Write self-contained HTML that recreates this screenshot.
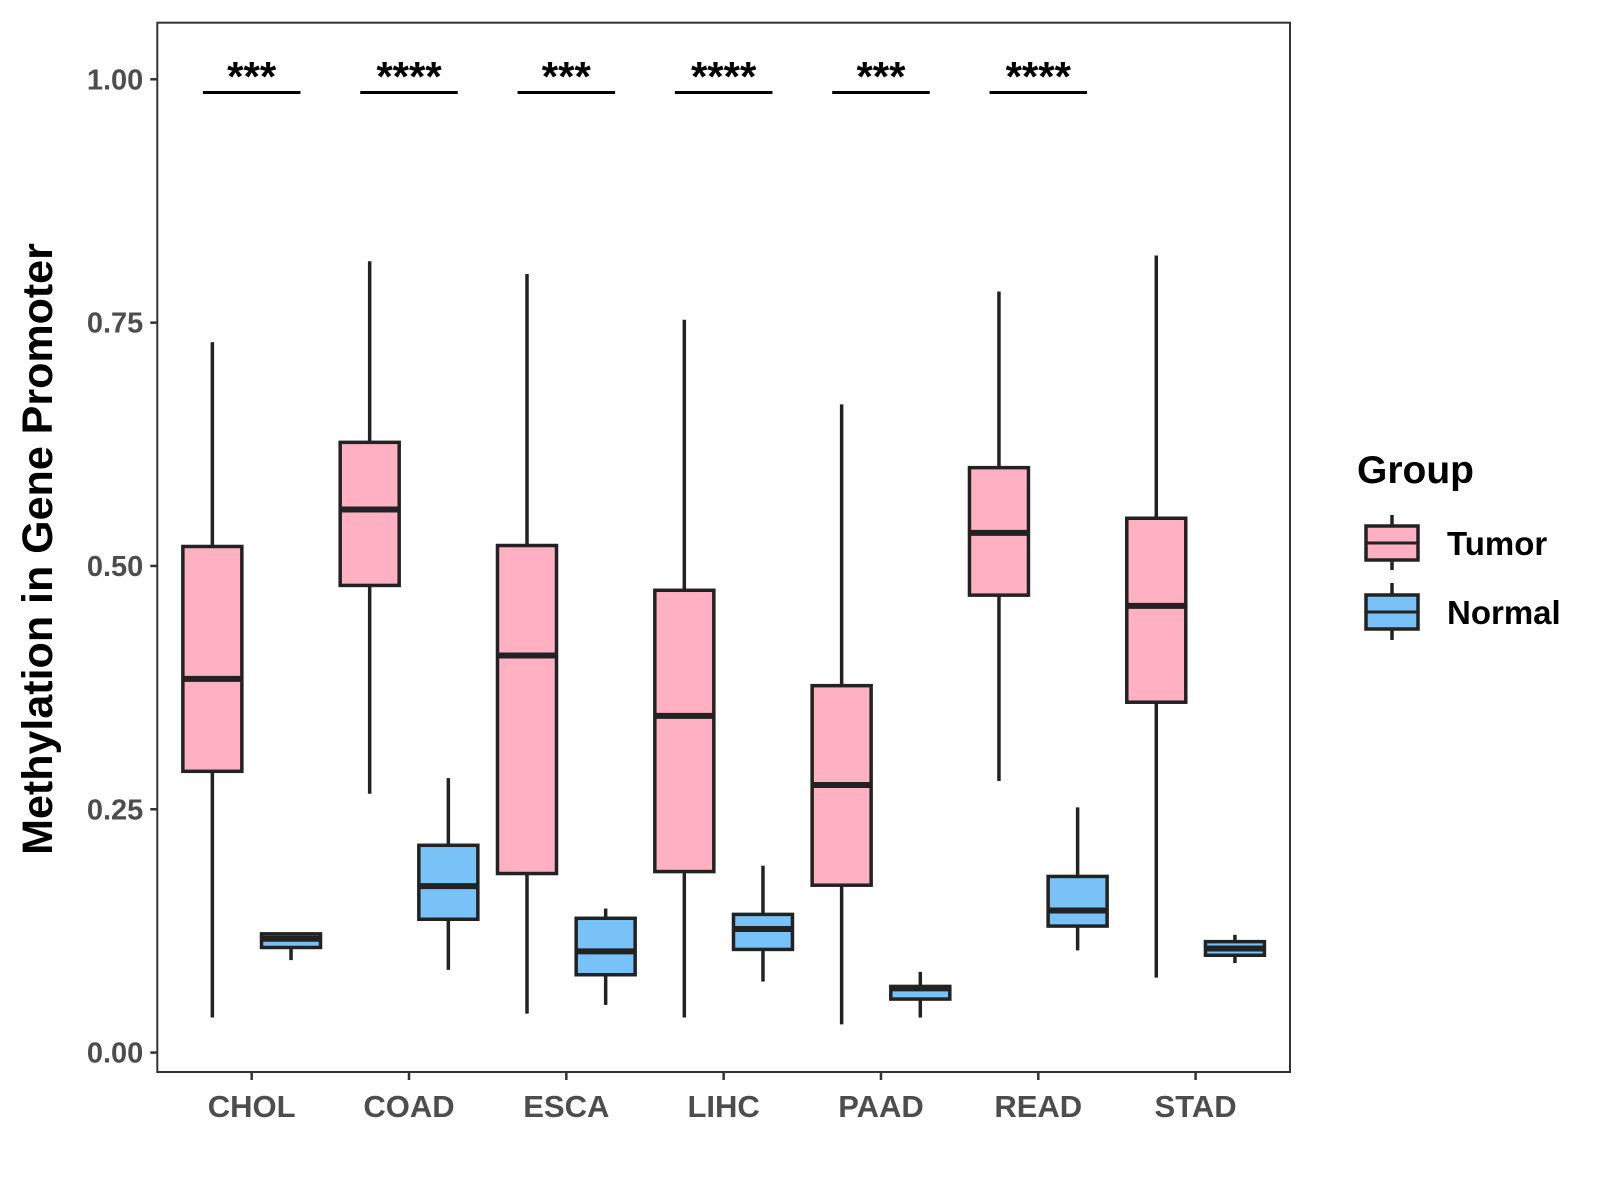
<!DOCTYPE html>
<html><head><meta charset="utf-8"><style>body{margin:0;background:#fff;position:relative}svg{display:block;font-family:"Liberation Sans",Arial,sans-serif}</style></head>
<body>
<svg id="c" width="1600" height="1200" viewBox="0 0 1600 1200"></svg>
<script>
const categories=["CHOL","COAD","ESCA","LIHC","PAAD","READ","STAD"];
const tumorStats=[[0.036,0.289,0.384,0.520,0.730],[0.266,0.480,0.558,0.627,0.813],[0.040,0.184,0.408,0.521,0.800],[0.036,0.186,0.346,0.475,0.753],[0.029,0.172,0.275,0.377,0.666],[0.279,0.470,0.534,0.601,0.782],[0.077,0.360,0.459,0.549,0.819]];
const normalStats=[[0.095,0.108,0.117,0.122,0.122],[0.085,0.137,0.171,0.213,0.282],[0.049,0.080,0.104,0.138,0.148],[0.073,0.106,0.127,0.142,0.192],[0.036,0.055,0.066,0.068,0.083],[0.105,0.130,0.146,0.181,0.252],[0.092,0.100,0.107,0.114,0.121]];
const sigLabels=["***","****","***","****","***","****"];
const yTicks=[0,0.25,0.5,0.75,1.0];
const yTickLabels=["0.00","0.25","0.50","0.75","1.00"];
const NS="http://www.w3.org/2000/svg";
const svg=document.getElementById('c');
const L=157.3,R=1290,T=22.7,B=1072;
const unit=(R-L)/7.2;
const xS=i=>L+(i+1-0.4)*unit;
const yS=v=>1052.6-v*973.3;
function mk(t,a,p){const e=document.createElementNS(NS,t);for(const k in a)e.setAttribute(k,a[k]);(p||svg).appendChild(e);return e;}
const panel=mk('rect',{x:L,y:T,width:R-L,height:B-T,fill:'none',stroke:'#333',"stroke-width":2});


yTicks.forEach((v,i)=>{
  const tk=mk('line',{x1:L-7,x2:L,y1:yS(v),y2:yS(v),stroke:'#333',"stroke-width":2.5});
  
  
  const t=mk('text',{x:L-14,y:yS(v)+10,"text-anchor":"end","font-size":29,"font-weight":"bold",fill:'#4d4d4d'});
  t.textContent=yTickLabels[i];
  
  
});
function box(cx,s,fill,name){
  const g=mk('g',{});
  
  
  const w=unit*0.375;
  mk('line',{x1:cx,x2:cx,y1:yS(s[0]),y2:yS(s[1]),stroke:'#222',"stroke-width":3.5},g);
  mk('line',{x1:cx,x2:cx,y1:yS(s[3]),y2:yS(s[4]),stroke:'#222',"stroke-width":3.5},g);
  mk('rect',{x:cx-w/2,y:yS(s[3]),width:w,height:yS(s[1])-yS(s[3]),fill:fill,stroke:'#222',"stroke-width":3.5},g);
  mk('line',{x1:cx-w/2,x2:cx+w/2,y1:yS(s[2]),y2:yS(s[2]),stroke:'#222',"stroke-width":6},g);
}
categories.forEach((c,i)=>{
  const cx=xS(i);
  box(cx-0.25*unit,tumorStats[i],'#FFB1C3','box-tumor-'+c.toLowerCase());
  box(cx+0.25*unit,normalStats[i],'#78C2F8','box-normal-'+c.toLowerCase());
  const tk=mk('line',{x1:cx,x2:cx,y1:B,y2:B+8,stroke:'#333',"stroke-width":2.5});
  
  
  const t=mk('text',{x:cx,y:B+45,"text-anchor":"middle","font-size":31,"font-weight":"bold",fill:'#4d4d4d'});
  t.textContent=c;
  
  
});
sigLabels.forEach((s,i)=>{
  const cx=xS(i);
  const l=mk('line',{x1:cx-0.31*unit,x2:cx+0.31*unit,y1:92.5,y2:92.5,stroke:'#000',"stroke-width":3});
  
  
  const t=mk('text',{x:cx,y:91,"text-anchor":"middle","font-size":42,"font-weight":"bold",fill:'#000'});
  t.textContent=s;
  
  
});
</script>
<svg width="1600" height="1200" style="position:absolute;left:0;top:0">
<text transform="translate(52,549) rotate(-90)" text-anchor="middle" font-size="43" font-weight="bold" fill="#000" font-family="Liberation Sans, sans-serif">Methylation in Gene Promoter</text>
<g font-family="Liberation Sans, sans-serif" font-weight="bold">
<text x="1357" y="483" font-size="39" fill="#000">Group</text>
<g>
<line x1="1392" x2="1392" y1="515" y2="570" stroke="#222" stroke-width="3.5"/>
<rect x="1366" y="526" width="52" height="34" fill="#FFB1C3" stroke="#222" stroke-width="3.5"/>
<line x1="1366" x2="1418" y1="543" y2="543" stroke="#222" stroke-width="3"/>
<text x="1447" y="555" font-size="33" fill="#000">Tumor</text></g>
<g>
<line x1="1392" x2="1392" y1="583" y2="640" stroke="#222" stroke-width="3.5"/>
<rect x="1366" y="595" width="52" height="34" fill="#78C2F8" stroke="#222" stroke-width="3.5"/>
<line x1="1366" x2="1418" y1="612" y2="612" stroke="#222" stroke-width="3"/>
<text x="1447" y="624" font-size="33" fill="#000">Normal</text></g>
</g>
</svg>
</body></html>
